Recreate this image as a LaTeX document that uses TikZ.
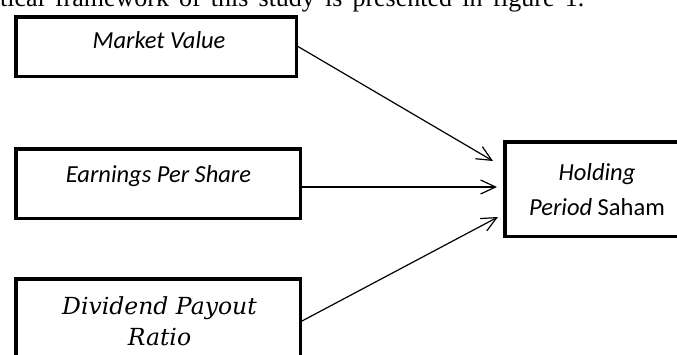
\documentclass[tikz,border=0pt]{standalone}
\usepackage{fontspec}
\setmainfont{Liberation Serif}
\newfontfamily\calibri{Carlito}
\newfontfamily\dejaserif{DejaVu Serif}
\usetikzlibrary{arrows.meta}

\begin{document}
\begin{tikzpicture}[x=1pt, y=-1pt,
    caixa/.style={draw, line width=3.5pt, inner sep=0pt},
    seta/.style={line width=1.2pt, -{Straight Barb[length=15pt, width=14pt]}},
    rotulo/.style={font=\calibri\fontsize{24.5}{35}\selectfont, inner sep=0pt, align=center}]
    \useasboundingbox (0,0) rectangle (677,354);
    \clip (0,0) rectangle (677,354);
    \fill[white] (0,0) rectangle (677,354);
    % Texto acima
    \node[anchor=base west, inner sep=0pt, font=\fontsize{26}{30}\selectfont] (intro) at (0,6)
        {\spaceskip=10.1pt tical framework of this study is presented in figure 1.};
    % Caixas
    \node[caixa, minimum width=280.5pt, minimum height=59.5pt] (mv) at (156,46.5) {};
    \node[caixa, minimum width=284.5pt, minimum height=69.5pt] (ep) at (158,183.5) {};
    \node[caixa, minimum width=284.5pt, minimum height=84.5pt] (dp) at (158,321) {};
    \node[caixa, minimum width=184.5pt, minimum height=94.5pt] (hp) at (597,189) {};
    % Rotulos
    \node[rotulo, anchor=base] (mvtxt) at (159,48) {\textit{Market Value}};
    \node[rotulo, anchor=base] (eptxt) at (158.5,182) {\textit{Earnings Per Share}};
    \node[rotulo, font=\dejaserif\itshape\fontsize{23.5}{31}\selectfont] (dptxt) at (159.5,321) {Dividend Payout\\Ratio};
    \node[rotulo] (hptxt) at (597,190) {\textit{Holding}\\\textit{Period} Saham};
    % Setas
    \draw[seta] (mv.east) -- ([xshift=-10pt, yshift=28pt]hp.west);
    \draw[seta] ([yshift=-3.5pt]ep.east) -- ([xshift=-6pt, yshift=2pt]hp.west);
    \draw[seta] (dp.east) -- ([xshift=-5pt, yshift=-28pt]hp.west);
\end{tikzpicture}
\end{document}
